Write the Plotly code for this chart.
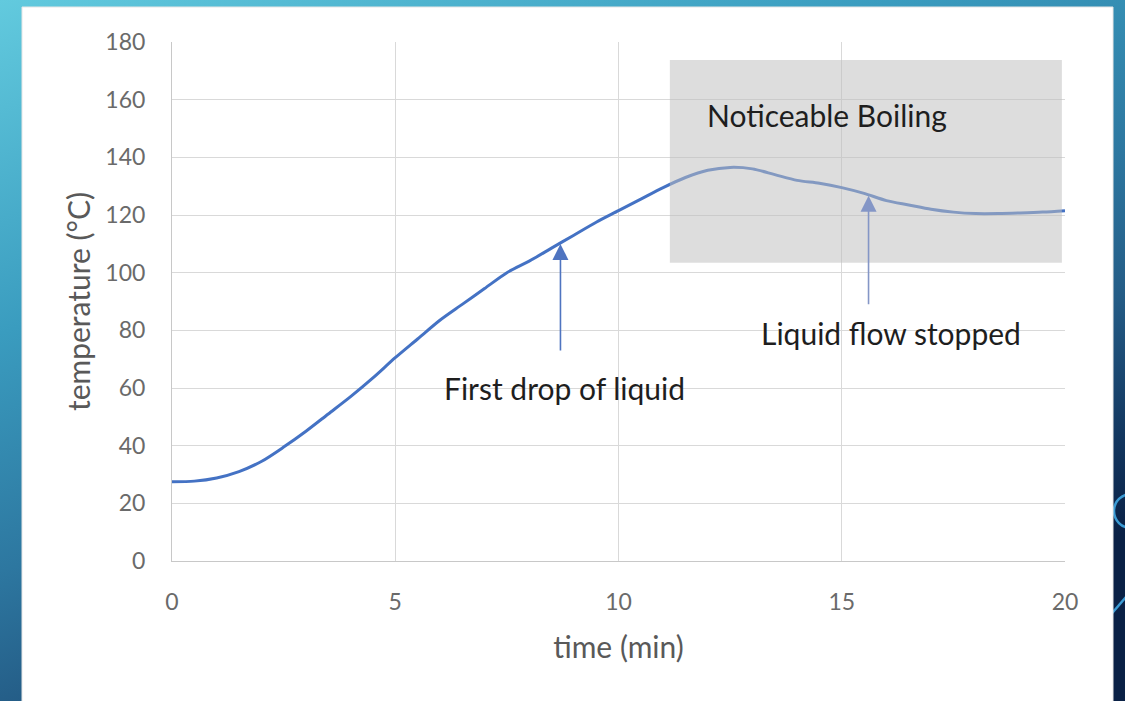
import base64
import numpy as np
import plotly.graph_objects as go

# ---- data ----
time_min = [0, 0.5, 1, 1.5, 2, 2.5, 3, 3.5, 4, 4.5, 5, 5.5, 6, 6.5, 7, 7.5, 8, 8.5, 9, 9.5,
            10, 10.5, 11, 11.5, 12, 12.5, 13, 13.5, 14, 14.5, 15, 15.5, 16, 16.5, 17, 17.5,
            18, 18.5, 19, 19.5, 20]
temperature_c = [27.5, 27.7, 28.8, 31.0, 34.5, 39.5, 45.0, 51.0, 57.0, 63.5, 70.5, 77.0, 83.5,
                 89.0, 94.5, 100.0, 104.0, 108.5, 113.0, 117.5, 121.5, 125.5, 129.5, 133.0,
                 135.5, 136.5, 136.0, 134.0, 132.0, 131.0, 129.5, 127.5, 125.0, 123.5, 122.0,
                 121.0, 120.5, 120.5, 120.7, 121.0, 121.5]

boiling_region_x = [11.15, 19.93]
boiling_region_y = [103.4, 173.8]
boiling_label = "Noticeable Boiling"
boiling_label_pos = [14.67, 154.7]

event_labels = ["First drop of liquid", "Liquid flow stopped"]
event_times = [8.7, 15.6]
event_label_x = [8.8, 16.1]
event_label_y = [60.0, 79.1]
event_arrow_tail_y = [72.5, 88.5]

x_ticks = [0, 5, 10, 15, 20]
y_ticks = [0, 20, 40, 60, 80, 100, 120, 140, 160, 180]

# ---- figure ----
W, H = 1125, 701
ML, MR, MT, MB = 172, 60, 42, 140
PW, PH = W - ML - MR, H - MT - MB


def px_to_paper_x(px):
    return (px - ML) / PW


def px_to_paper_y(py):
    return (H - MB - py) / PH


fig = go.Figure()
fig.add_trace(go.Scatter(
    x=time_min, y=temperature_c, mode="lines",
    line=dict(color="#4472C4", width=3, shape="spline", smoothing=0.8),
    hoverinfo="skip", showlegend=False,
))

# background gradient (slide)
svg = (
    f'<svg xmlns="http://www.w3.org/2000/svg" width="{W}" height="{H}" '
    f'viewBox="0 0 {W} {H}" preserveAspectRatio="none">'
    '<defs><linearGradient id="g" x1="0" y1="0" x2="0.6" y2="1">'
    '<stop offset="0" stop-color="#62cade"/>'
    '<stop offset="0.35" stop-color="#3a9cbf"/>'
    '<stop offset="0.6" stop-color="#2d77a0"/>'
    '<stop offset="0.75" stop-color="#245c86"/>'
    '<stop offset="0.9" stop-color="#12365f"/>'
    '<stop offset="1" stop-color="#0a2146"/>'
    '</linearGradient></defs>'
    f'<rect width="{W}" height="{H}" fill="url(#g)"/></svg>'
)
src = "data:image/svg+xml;base64," + base64.b64encode(svg.encode()).decode()
fig.add_layout_image(dict(
    source=src, xref="paper", yref="paper",
    x=px_to_paper_x(0), y=px_to_paper_y(0),
    sizex=W / PW, sizey=H / PH, sizing="stretch",
    xanchor="left", yanchor="top", layer="below",
))

shapes = []
# decorative circle and line at the slide's right edge
shapes.append(dict(type="circle", xref="paper", yref="paper", layer="below",
                   x0=px_to_paper_x(1114), x1=px_to_paper_x(1148),
                   y0=px_to_paper_y(528), y1=px_to_paper_y(494),
                   line=dict(color="#3b9bd4", width=2.5), fillcolor="rgba(0,0,0,0)"))
shapes.append(dict(type="line", xref="paper", yref="paper", layer="below",
                   x0=px_to_paper_x(1095), y0=px_to_paper_y(633),
                   x1=px_to_paper_x(1145), y1=px_to_paper_y(575),
                   line=dict(color="#3b9bd4", width=2.5)))
# white card
shapes.append(dict(type="rect", xref="paper", yref="paper", layer="below",
                   x0=px_to_paper_x(22), x1=px_to_paper_x(1113),
                   y0=px_to_paper_y(720), y1=px_to_paper_y(7),
                   line=dict(color="#e6e6e6", width=1), fillcolor="white"))
# boiling region overlay
shapes.append(dict(type="rect", xref="x", yref="y", layer="above",
                   x0=boiling_region_x[0], x1=boiling_region_x[1],
                   y0=boiling_region_y[0], y1=boiling_region_y[1],
                   line=dict(width=0), fillcolor="rgba(190,190,190,0.52)"))
fig.update_layout(shapes=shapes)

text_font = dict(family="Lato, Calibri, sans-serif", size=30, color="#1e1e1e")

fig.add_annotation(x=boiling_label_pos[0], y=boiling_label_pos[1],
                   text=boiling_label, showarrow=False, font=text_font,
                   xanchor="center", yanchor="middle")

arrow_colors = ["#4f74c0", "#8496c6"]
tip_y = np.interp(event_times, time_min, temperature_c)
for t, tail, ty, col in zip(event_times, event_arrow_tail_y, tip_y, arrow_colors):
    fig.add_annotation(x=t, y=ty, ax=t, ay=tail, axref="x", ayref="y",
                       text="", showarrow=True, arrowhead=2, arrowsize=2,
                       arrowwidth=1.6, arrowcolor=col, standoff=1)

for lab, lx, ly in zip(event_labels, event_label_x, event_label_y):
    fig.add_annotation(x=lx, y=ly, text=lab, showarrow=False, font=text_font,
                       xanchor="center", yanchor="middle")

tick_font = dict(family="Lato, Calibri, sans-serif", size=23, color="#6a6a6a")
title_font = dict(family="Lato, Calibri, sans-serif", size=30, color="#595959")

fig.update_xaxes(range=[0, 20], tickvals=x_ticks, showgrid=True, gridcolor="#d9d9d9",
                 gridwidth=1, zeroline=False, showline=True, linecolor="#c8c8c8",
                 linewidth=1, ticks="", tickfont=tick_font, ticklabelstandoff=20,
                 title=dict(text="time (min)", font=title_font, standoff=23))
fig.update_yaxes(range=[0, 180], tickvals=y_ticks, showgrid=True, gridcolor="#d9d9d9",
                 gridwidth=1, zeroline=False, showline=True, linecolor="#c8c8c8",
                 linewidth=1, ticks="", tickfont=tick_font, ticklabelstandoff=21,
                 title=dict(text="temperature (°C)", font=title_font, standoff=5))

fig.update_layout(
    width=W, height=H, autosize=False,
    margin=dict(l=ML, r=MR, t=MT, b=MB, pad=0),
    paper_bgcolor="white", plot_bgcolor="rgba(0,0,0,0)",
    showlegend=False,
)

fig.write_html(
    "out.html",
    config={"displayModeBar": False, "staticPlot": True},
    post_script="document.body.style.margin='0px';document.body.style.overflow='hidden';",
)
